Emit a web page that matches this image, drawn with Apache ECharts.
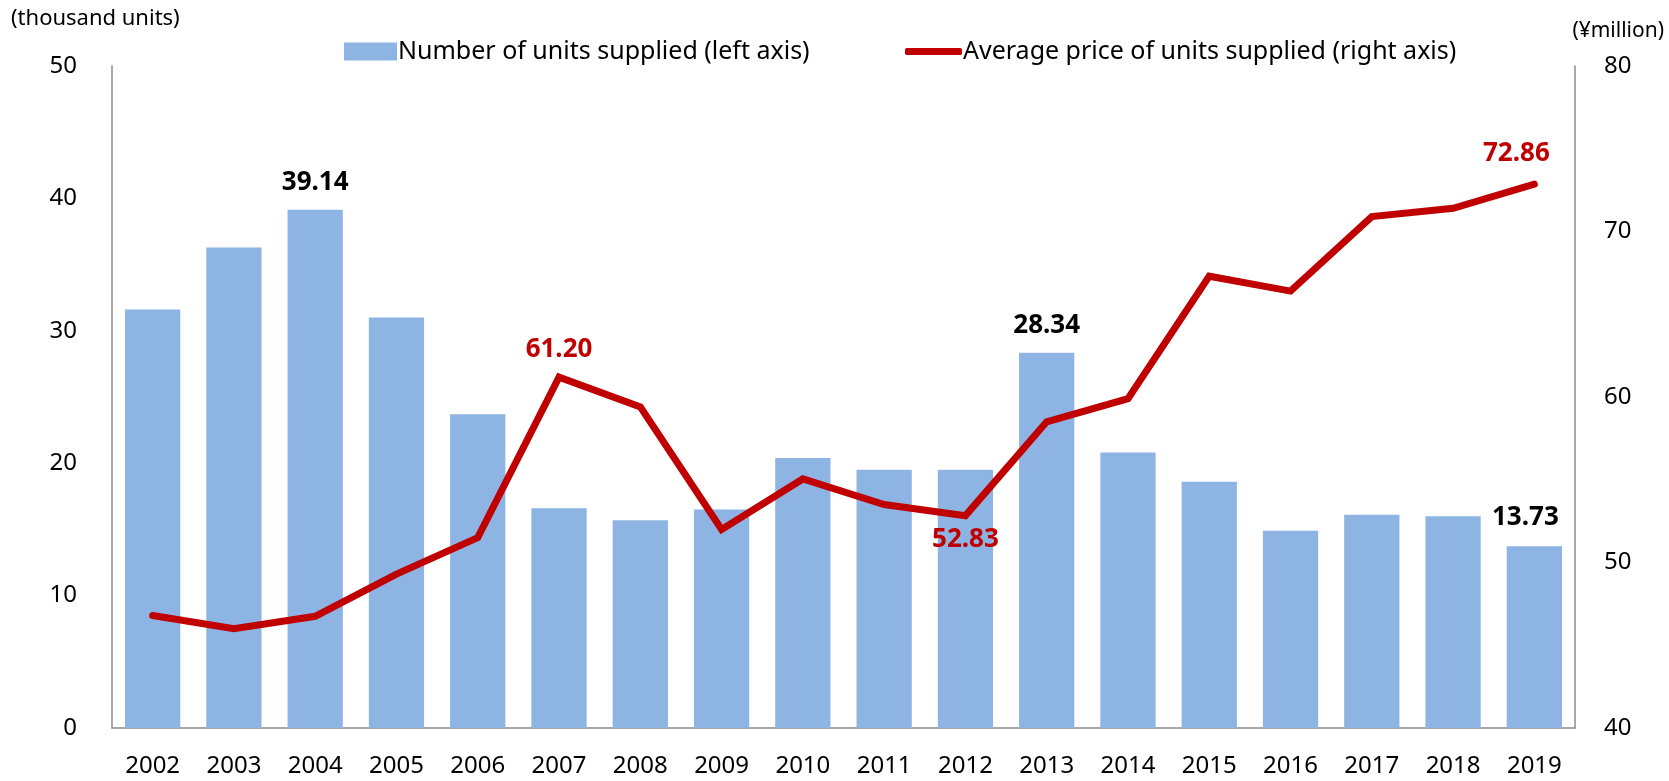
<!DOCTYPE html>
<html>
<head>
<meta charset="utf-8">
<script src="https://cdn.jsdelivr.net/npm/echarts@6/dist/echarts.min.js"></script>
<style>
  html, body { margin: 0; padding: 0; background: #fff; }
  #chart { width: 1669px; height: 781px; }
</style>
</head>
<body>
<div id="chart"></div>
<script>
// Condominium supply: units (thousands) and average price (¥ million)
const years = ['2002','2003','2004','2005','2006','2007','2008','2009','2010',
               '2011','2012','2013','2014','2015','2016','2017','2018','2019'];
const unitsSupplied = [31.6, 36.3, 39.14, 31.0, 23.7, 16.6, 15.7, 16.5, 20.4,
                       19.5, 19.5, 28.34, 20.8, 18.6, 14.9, 16.1, 16.0, 13.73];
const averagePrice = [46.8, 46.0, 46.75, 49.3, 51.5, 61.20, 59.4, 52.0, 55.05,
                      53.5, 52.83, 58.5, 59.9, 67.3, 66.4, 70.9, 71.4, 72.86];
const leftTicks = { min: 0, max: 50, interval: 10 };
const rightTicks = { min: 40, max: 80, interval: 10 };

// Which points carry a value label, and where
const unitLabels = { '2004': {}, '2013': {}, '2019': { offset: [-9, -2] } };
const priceLabels = {
  '2007': { position: 'top', distance: 14 },
  '2012': { position: 'bottom', distance: 10 },
  '2019': { position: 'top', distance: 17, offset: [-18, 0] }
};

const FONT = '"Noto Sans", "Open Sans", sans-serif';
const BAR_COLOR = '#8EB4E3';
const LINE_COLOR = '#C00000';
const AXIS_COLOR = '#8C8C8C';

const barData = unitsSupplied.map((v, i) => {
  const cfg = unitLabels[years[i]];
  if (!cfg) return v;
  return {
    value: v,
    label: {
      show: true, position: 'top', distance: 14, offset: cfg.offset || [0, 0],
      formatter: p => p.value.toFixed(2),
      color: '#000', fontWeight: 'bold', fontSize: 26, fontFamily: FONT
    }
  };
});

const lineData = averagePrice.map((v, i) => {
  const cfg = priceLabels[years[i]];
  if (!cfg) return v;
  return {
    value: v,
    label: {
      show: true, position: cfg.position, distance: cfg.distance, offset: cfg.offset || [0, 0],
      formatter: p => p.value.toFixed(2),
      color: LINE_COLOR, fontWeight: 'bold', fontSize: 26, fontFamily: FONT
    }
  };
});

const chart = echarts.init(document.getElementById('chart'), null, { renderer: 'canvas' });

chart.setOption({
  animation: false,
  backgroundColor: '#fff',
  textStyle: { fontFamily: FONT },
  title: [
    { text: '(thousand units)', left: 6, top: 3,
      textStyle: { fontSize: 22, fontWeight: 'normal', color: '#000', fontFamily: FONT } },
    { text: '(¥million)', right: 0, top: 16,
      textStyle: { fontSize: 21, fontWeight: 'normal', color: '#000', fontFamily: FONT } }
  ],
  legend: [
    {
      data: ['Number of units supplied (left axis)'],
      left: 339, top: 34,
      itemWidth: 53, itemHeight: 18, itemGap: 6,
      icon: 'rect',
      textStyle: { fontSize: 25, color: '#000', fontFamily: FONT, padding: [0, 0, 0, -4] }
    },
    {
      data: ['Average price of units supplied (right axis)'],
      left: 900, top: 34,
      itemWidth: 57, itemHeight: 7, itemGap: 6,
      icon: 'roundRect',
      textStyle: { fontSize: 25, color: '#000', fontFamily: FONT, padding: [0, 0, 0, -4] }
    }
  ],
  grid: { left: 112, right: 94, top: 66, bottom: 53, containLabel: false },
  xAxis: {
    type: 'category',
    data: years,
    axisLine: { lineStyle: { color: AXIS_COLOR, width: 1.5 } },
    axisTick: { show: false },
    axisLabel: { color: '#000', fontSize: 24, margin: 26, fontFamily: FONT }
  },
  yAxis: [
    {
      type: 'value', position: 'left',
      min: leftTicks.min, max: leftTicks.max, interval: leftTicks.interval,
      axisLine: { show: true, lineStyle: { color: AXIS_COLOR, width: 1.5 } },
      axisTick: { show: false },
      splitLine: { show: false },
      axisLabel: { color: '#000', fontSize: 24, margin: 35, fontFamily: FONT }
    },
    {
      type: 'value', position: 'right',
      min: rightTicks.min, max: rightTicks.max, interval: rightTicks.interval,
      axisLine: { show: true, lineStyle: { color: AXIS_COLOR, width: 1.5 } },
      axisTick: { show: false },
      splitLine: { show: false },
      axisLabel: { color: '#000', fontSize: 24, margin: 29, fontFamily: FONT }
    }
  ],
  series: [
    {
      name: 'Number of units supplied (left axis)',
      type: 'bar',
      yAxisIndex: 0,
      data: barData,
      barCategoryGap: '32%',
      itemStyle: { color: BAR_COLOR },
      z: 2
    },
    {
      name: 'Average price of units supplied (right axis)',
      type: 'line',
      yAxisIndex: 1,
      data: lineData,
      showSymbol: true,
      symbol: 'circle',
      symbolSize: 1,
      lineStyle: { color: LINE_COLOR, width: 7, cap: 'round', join: 'miter' },
      itemStyle: { color: LINE_COLOR },
      z: 3
    }
  ]
});
</script>
</body>
</html>
